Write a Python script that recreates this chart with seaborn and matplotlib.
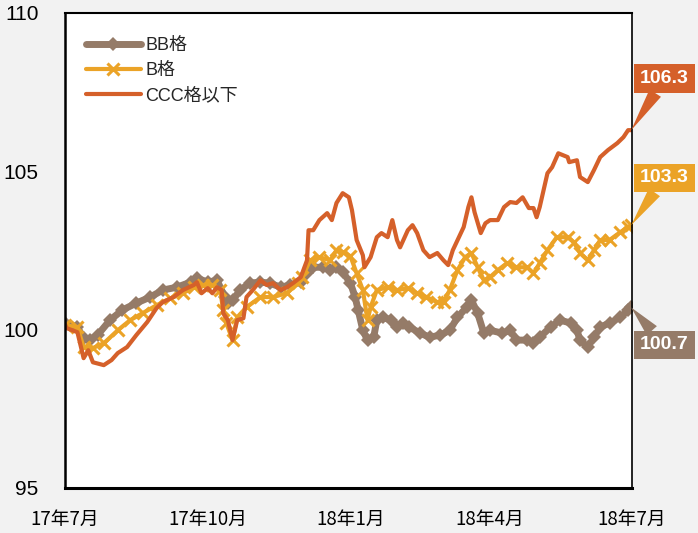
import numpy as np
import pandas as pd
import matplotlib
matplotlib.use("Agg")
import matplotlib.pyplot as plt
import seaborn as sns

# ---------------- data (days since 2017-07-01, index values) ----------------
bb_days = [0, 8, 12, 16, 21, 29, 37, 46, 55, 63, 72, 81, 85, 92, 98, 103, 105, 108, 113, 119,
           126, 132, 139, 145, 152, 156, 160, 166, 171, 175, 179, 184, 187, 189, 192, 195, 199,
           201, 205, 210, 214, 218, 222, 229, 235, 242, 248, 253, 259, 262, 266, 270, 274, 282,
           287, 291, 298, 302, 306, 313, 319, 326, 330, 332, 337, 341, 345, 351, 358, 363, 365]
bb_vals = [100.21, 100.08, 99.73, 99.67, 99.83, 100.30, 100.62, 100.84, 101.03, 101.25, 101.34,
           101.50, 101.63, 101.50, 101.56, 101.03, 100.84, 100.93, 101.25, 101.47, 101.50, 101.47,
           101.34, 101.41, 101.50, 101.78, 101.97, 101.97, 101.88, 101.97, 101.82, 101.47, 101.03,
           100.62, 99.98, 99.67, 99.76, 100.30, 100.39, 100.30, 100.08, 100.21, 100.08, 99.89,
           99.76, 99.83, 99.98, 100.39, 100.71, 100.93, 100.52, 99.89, 99.98, 99.89, 99.98, 99.67,
           99.67, 99.57, 99.76, 100.08, 100.30, 100.21, 99.98, 99.67, 99.45, 99.76, 100.08,
           100.21, 100.39, 100.62, 100.70]

b_days = [0, 8, 12, 18, 25, 34, 42, 50, 59, 68, 76, 83, 89, 95, 100, 102, 104, 108, 111, 117,
          126, 134, 143, 150, 153, 158, 164, 171, 175, 179, 184, 188, 192, 195, 197, 201, 208,
          214, 221, 227, 233, 240, 244, 248, 253, 258, 262, 266, 270, 274, 279, 285, 291, 298,
          302, 306, 311, 317, 324, 328, 332, 337, 341, 345, 351, 358, 363, 365]
b_vals = [100.14, 100.08, 99.45, 99.42, 99.57, 99.98, 100.30, 100.52, 100.77, 100.99, 101.15,
          101.34, 101.41, 101.41, 101.25, 100.62, 100.21, 99.67, 100.39, 100.71, 101.03, 101.03,
          101.15, 101.47, 101.66, 102.19, 102.29, 102.19, 102.51, 102.45, 102.32, 101.78, 101.25,
          100.30, 100.71, 101.25, 101.34, 101.25, 101.31, 101.15, 101.03, 100.87, 100.87, 101.25,
          101.88, 102.29, 102.42, 101.97, 101.56, 101.66, 101.88, 102.10, 101.97, 101.97, 101.78,
          102.10, 102.51, 102.92, 102.92, 102.76, 102.42, 102.19, 102.51, 102.83, 102.83, 103.08,
          103.24, 103.30]

ccc_days = [0, 1, 8, 12, 15, 18, 25, 30, 34, 40, 46, 53, 59, 63, 70, 76, 83, 85, 88, 92, 95,
            98, 101, 102, 105, 108, 111, 115, 117, 121, 126, 130, 134, 139, 143, 147, 152, 156,
            157, 160, 164, 169, 172, 175, 179, 183, 185, 188, 192, 193, 197, 201, 204, 208, 211,
            214, 216, 221, 224, 227, 231, 235, 240, 244, 247, 250, 257, 260, 262, 264, 268, 271,
            274, 279, 283, 287, 291, 295, 299, 302, 304, 306, 311, 314, 318, 324, 325, 330, 332,
            337, 341, 345, 350, 356, 360, 363, 365]
ccc_vals = [100.17, 100.05, 99.92, 99.10, 99.35, 98.97, 98.88, 99.04, 99.26, 99.45, 99.83,
            100.24, 100.68, 100.87, 101.03, 101.25, 101.41, 101.50, 101.15, 101.31, 101.15,
            101.34, 101.25, 100.52, 100.30, 99.67, 100.30, 100.36, 101.03, 101.25, 101.56,
            101.41, 101.47, 101.25, 101.34, 101.47, 101.66, 102.19, 103.14, 103.14, 103.46,
            103.68, 103.46, 104.00, 104.31, 104.18, 103.77, 102.83, 102.35, 101.97, 102.29,
            102.92, 103.05, 102.92, 103.46, 102.83, 102.60, 103.14, 103.30, 103.05, 102.51,
            102.29, 102.42, 102.19, 102.04, 102.51, 103.24, 103.87, 104.18, 103.71, 103.05,
            103.36, 103.46, 103.46, 103.87, 104.03, 104.00, 104.18, 103.84, 103.84, 103.55,
            103.87, 104.94, 105.13, 105.57, 105.45, 105.29, 105.35, 104.82, 104.66, 105.04,
            105.45, 105.67, 105.89, 106.08, 106.30, 106.30]

series_names = ["BB格", "B格", "CCC格以下"]
end_labels = ["100.7", "103.3", "106.3"]
x_tick_dates = ["2017-07-01", "2017-10-01", "2018-01-01", "2018-04-01", "2018-07-01"]
x_tick_labels = ["17年7月", "17年10月", "18年1月", "18年4月", "18年7月"]
y_ticks = [95, 100, 105, 110]

# ---------------- styling ----------------
sns.set_style("white")
plt.rcParams["font.family"] = ["Liberation Sans", "Noto Sans CJK JP", "DejaVu Sans"]

c_bb = "#957b68"
c_b = "#eba327"
c_ccc = "#d5602a"
bg = "#f2f2f2"

start = pd.Timestamp("2017-07-01")
def to_dates(days):
    return start + pd.to_timedelta(np.array(days), unit="D")

fig = plt.figure(figsize=(6.98, 5.33), dpi=100, facecolor=bg)
ax = fig.add_axes([65 / 698, 1 - 488 / 533, (632 - 65) / 698, (488 - 13) / 533])
ax.set_facecolor("white")

sns.lineplot(x=to_dates(bb_days), y=bb_vals, ax=ax, color=c_bb, linewidth=5,
             marker="D", markersize=7, markeredgewidth=0, label=series_names[0])
sns.lineplot(x=to_dates(b_days), y=b_vals, ax=ax, color=c_b, linewidth=3,
             marker="x", markersize=9, markeredgewidth=2.2, markeredgecolor=c_b,
             label=series_names[1])
sns.lineplot(x=to_dates(ccc_days), y=ccc_vals, ax=ax, color=c_ccc, linewidth=3,
             label=series_names[2])

ax.set_xlim(start, pd.Timestamp("2018-07-01") + pd.Timedelta(hours=12))
ax.set_ylim(95, 110)
ax.set_yticks(y_ticks)
ax.set_yticklabels([str(v) for v in y_ticks],
                   family=["Liberation Sans Narrow", "Liberation Sans", "DejaVu Sans"],
                   fontsize=15)
ax.set_xticks(pd.to_datetime(x_tick_dates))
ax.set_xticklabels(x_tick_labels,
                   family=["Liberation Sans Narrow", "Noto Sans CJK JP", "DejaVu Sans"],
                   fontsize=13.5)
ax.tick_params(axis="y", direction="out", length=7, width=1.5, pad=12, colors="black")
ax.tick_params(axis="x", direction="out", length=6, width=1.5, pad=9, colors="black")
ax.set_xlabel("")
ax.set_ylabel("")

for side, lw in [("left", 1.8), ("bottom", 2.2), ("right", 1.2), ("top", 1.5)]:
    ax.spines[side].set_visible(True)
    ax.spines[side].set_color("black")
    ax.spines[side].set_linewidth(lw)

leg = ax.legend(loc="upper left", frameon=False, handlelength=3.0,
                handletextpad=0.25, labelspacing=0.45, borderaxespad=0.0,
                bbox_to_anchor=(0.025, 0.965),
                prop={"family": ["Liberation Sans", "Noto Sans CJK JP"], "size": 13})

# end-value callouts
ends = [(bb_days[-1], bb_vals[-1], end_labels[0], c_bb, (24, -27)),
        (b_days[-1], b_vals[-1], end_labels[1], c_b, (24, 34)),
        (ccc_days[-1], ccc_vals[-1], end_labels[2], c_ccc, (24, 37))]
for d, v, lab, col, off in ends:
    ax.annotate(lab, xy=(start + pd.Timedelta(days=d), v), xytext=off,
                textcoords="offset points", ha="center", va="center",
                color="white", fontsize=14, fontweight="bold",
                bbox=dict(boxstyle="square,pad=0.3", fc=col, ec="none"),
                arrowprops=dict(arrowstyle="wedge,tail_width=0.7", fc=col, ec="none",
                                shrinkA=0, shrinkB=0),
                annotation_clip=False, zorder=5)

fig.savefig("out.png", dpi=100, facecolor=bg)
